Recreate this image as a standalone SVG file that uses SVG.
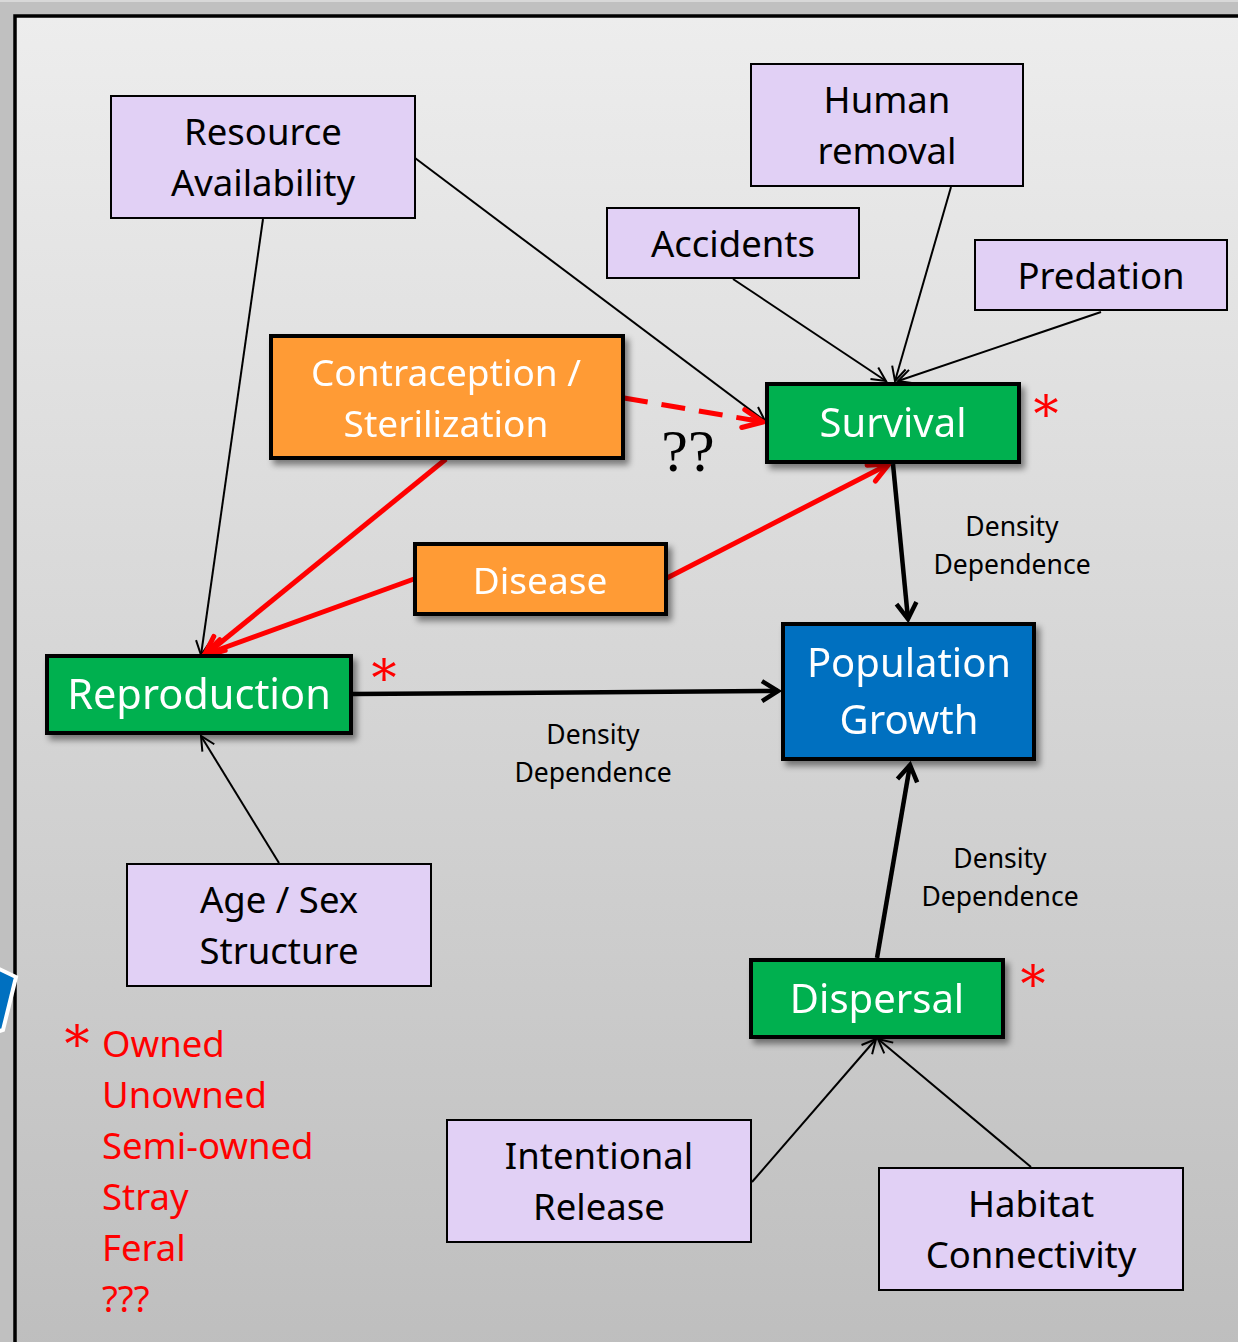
<svg xmlns="http://www.w3.org/2000/svg" width="1238" height="1342" viewBox="0 0 1238 1342">
  <defs>
    <linearGradient id="panelFill" x1="0" y1="0" x2="0" y2="1">
      <stop offset="0" stop-color="#ededed"/>
      <stop offset="1" stop-color="#bebebe"/>
    </linearGradient>
    <filter id="shadow" x="-10%" y="-20%" width="130%" height="150%">
      <feDropShadow dx="4" dy="5" stdDeviation="3" flood-color="#000" flood-opacity="0.45"/>
    </filter>
    <marker id="arrThin" markerUnits="userSpaceOnUse" orient="auto" overflow="visible" refX="0" refY="0" markerWidth="1" markerHeight="1">
      <path d="M-14,-7 L0,0 L-14,7" fill="none" stroke="#000" stroke-width="2"/>
    </marker>
    <marker id="arrThick" markerUnits="userSpaceOnUse" orient="auto" overflow="visible" refX="0" refY="0" markerWidth="1" markerHeight="1">
      <path d="M-16,-10 L0,0 L-16,10" fill="none" stroke="#000" stroke-width="4.5" stroke-linejoin="miter"/>
    </marker>
    <marker id="arrRed" markerUnits="userSpaceOnUse" orient="auto" overflow="visible" refX="0" refY="0" markerWidth="1" markerHeight="1">
      <path d="M-20,-9 L0,0 L-20,9" fill="none" stroke="#ff0000" stroke-width="5" stroke-linecap="round" stroke-linejoin="round"/>
    </marker>
    <style>
      .lav { fill: #e1d0f5; stroke: #000; stroke-width: 2; }
      .orange { fill: #ff9b36; stroke: #000; stroke-width: 4; }
      .green { fill: #00b050; stroke: #000; stroke-width: 4; }
      .blue { fill: #0070c0; stroke: #000; stroke-width: 4; }
      text { font-family: "Noto Sans", "Open Sans", sans-serif; text-anchor: middle; }
      .t-dark { fill: #000; font-size: 36.5px; }
      .t-light { fill: #fff; font-size: 37px; }
      .t-big { fill: #fff; font-size: 40px; }
      .dd { fill: #000; font-size: 26.5px; }
      .star { fill: #ff0000; font-family: "DejaVu Serif", "Liberation Serif", serif; font-size: 50px; text-anchor: middle; }
      .legend { fill: #ff0000; font-size: 36.5px; text-anchor: start; }
      .thin { stroke: #000; stroke-width: 2; fill: none; marker-end: url(#arrThin); }
      .thick { stroke: #000; stroke-width: 4.5; fill: none; marker-end: url(#arrThick); }
      .red { stroke: #ff0000; stroke-width: 5; fill: none; marker-end: url(#arrRed); }
    </style>
  </defs>

  <!-- backdrop and framed panel -->
  <rect x="0" y="0" width="1238" height="1342" fill="#c0c0c0"/>
  <line x1="0" y1="1" x2="1238" y2="1" stroke="#d8d8d8" stroke-width="2"/>
  <rect x="15" y="16" width="1240" height="1340" fill="url(#panelFill)" stroke="#000" stroke-width="3.5"/>
  <polygon points="-30,955 16,977 3,1030 -30,1040" fill="#0070c0" stroke="#fff" stroke-width="4"/>

  <!-- connectors -->
  <g id="connectors">
    <line class="thin" x1="263" y1="219" x2="201" y2="655"/>
    <line class="thin" x1="415" y1="158" x2="765" y2="421"/>
    <line class="thin" x1="733" y1="279" x2="886" y2="381"/>
    <line class="thin" x1="951" y1="187" x2="895" y2="381"/>
    <line class="thin" x1="1101" y1="312" x2="898" y2="381"/>
    <line class="thin" x1="279" y1="863" x2="201" y2="736"/>
    <line class="thin" x1="752" y1="1182" x2="876" y2="1039"/>
    <line class="thin" x1="1031" y1="1167" x2="878" y2="1039"/>
    <line class="red" x1="624" y1="398" x2="763" y2="422" stroke-dasharray="24 14"/>
    <line class="red" x1="446" y1="459" x2="204" y2="656"/>
    <line class="red" x1="414" y1="579" x2="204" y2="655"/>
    <line class="red" x1="667" y1="578" x2="889" y2="464"/>
    <line class="thick" x1="893" y1="464" x2="908" y2="619"/>
    <line class="thick" x1="353" y1="694" x2="778" y2="691"/>
    <line class="thick" x1="877" y1="958" x2="910" y2="765"/>
  </g>

  <!-- factor boxes -->
  <g id="resource">
    <rect class="lav" x="111" y="96" width="304" height="122"/>
    <text class="t-dark" x="263" y="145">Resource</text>
    <text class="t-dark" x="263" y="196">Availability</text>
  </g>
  <g id="human-removal">
    <rect class="lav" x="751" y="64" width="272" height="122"/>
    <text class="t-dark" x="887" y="113">Human</text>
    <text class="t-dark" x="887" y="164">removal</text>
  </g>
  <g id="accidents">
    <rect class="lav" x="607" y="208" width="252" height="70"/>
    <text class="t-dark" x="733" y="257">Accidents</text>
  </g>
  <g id="predation">
    <rect class="lav" x="975" y="240" width="252" height="70"/>
    <text class="t-dark" x="1101" y="289">Predation</text>
  </g>
  <g id="age-sex">
    <rect class="lav" x="127" y="864" width="304" height="122"/>
    <text class="t-dark" x="279" y="913">Age / Sex</text>
    <text class="t-dark" x="279" y="964">Structure</text>
  </g>
  <g id="intentional-release">
    <rect class="lav" x="447" y="1120" width="304" height="122"/>
    <text class="t-dark" x="599" y="1169">Intentional</text>
    <text class="t-dark" x="599" y="1220">Release</text>
  </g>
  <g id="habitat">
    <rect class="lav" x="879" y="1168" width="304" height="122"/>
    <text class="t-dark" x="1031" y="1217">Habitat</text>
    <text class="t-dark" x="1031" y="1268">Connectivity</text>
  </g>

  <!-- management / process boxes -->
  <g id="contraception" filter="url(#shadow)">
    <rect class="orange" x="271" y="336" width="352" height="122"/>
    <text class="t-light" x="446" y="386">Contraception /</text>
    <text class="t-light" x="446" y="437">Sterilization</text>
  </g>
  <g id="disease" filter="url(#shadow)">
    <rect class="orange" x="415" y="544" width="251" height="70"/>
    <text class="t-light" x="540" y="594">Disease</text>
  </g>
  <g id="survival" filter="url(#shadow)">
    <rect class="green" x="767" y="384" width="252" height="78"/>
    <text class="t-big" x="893" y="437">Survival</text>
  </g>
  <g id="reproduction" filter="url(#shadow)">
    <rect class="green" x="47" y="656" width="304" height="77"/>
    <text class="t-big" x="199" y="709" style="font-size: 41.5px;">Reproduction</text>
  </g>
  <g id="population-growth" filter="url(#shadow)">
    <rect class="blue" x="783" y="624" width="251" height="135"/>
    <text class="t-big" x="909" y="677">Population</text>
    <text class="t-big" x="909" y="734">Growth</text>
  </g>
  <g id="dispersal" filter="url(#shadow)">
    <rect class="green" x="751" y="960" width="252" height="77"/>
    <text class="t-big" x="877" y="1013">Dispersal</text>
  </g>

  <!-- connector labels -->
  <g id="labels">
    <text class="dd" x="1012" y="536">Density</text>
    <text class="dd" x="1012" y="574">Dependence</text>
    <text class="dd" x="593" y="744">Density</text>
    <text class="dd" x="593" y="782">Dependence</text>
    <text class="dd" x="1000" y="868">Density</text>
    <text class="dd" x="1000" y="906">Dependence</text>
    <text x="688" y="471" style="font-family: 'Liberation Serif', 'DejaVu Serif', serif; font-size: 60px; fill: #000;">??</text>
    <text class="star" x="1046" y="432">*</text>
    <text class="star" x="384" y="696">*</text>
    <text class="star" x="1033" y="1002">*</text>
  </g>

  <!-- ownership legend -->
  <g id="legend">
    <text class="star" x="77" y="1062">*</text>
    <text class="legend" x="102" y="1057">Owned</text>
    <text class="legend" x="102" y="1108">Unowned</text>
    <text class="legend" x="102" y="1159">Semi-owned</text>
    <text class="legend" x="102" y="1210">Stray</text>
    <text class="legend" x="102" y="1261">Feral</text>
    <text class="legend" x="102" y="1312">???</text>
  </g>
</svg>
